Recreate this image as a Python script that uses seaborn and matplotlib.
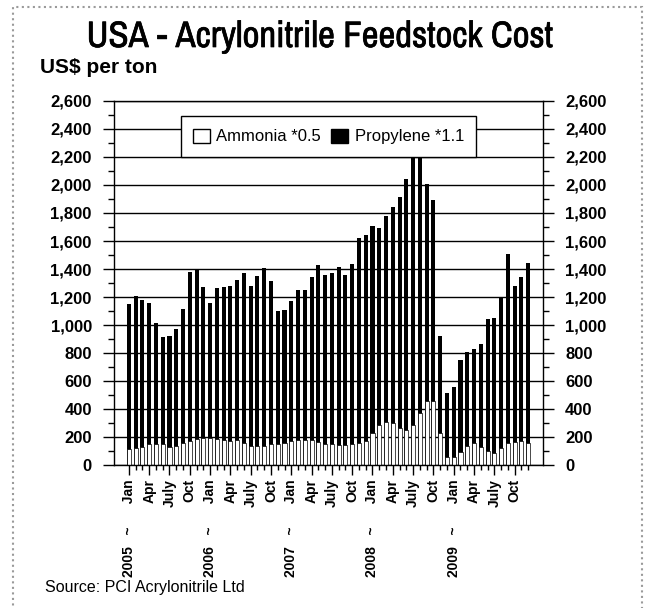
import seaborn as sns
import pandas as pd
import matplotlib.pyplot as plt
import matplotlib.patheffects as pe
from matplotlib import font_manager
from matplotlib.patches import Patch, Rectangle
from matplotlib.ticker import FuncFormatter, MultipleLocator

# monthly data Jan 2005 - Dec 2009, US$ per ton
years = [2005, 2006, 2007, 2008, 2009]
month_names = ['Jan', 'Feb', 'Mar', 'Apr', 'May', 'Jun',
               'Jul', 'Aug', 'Sep', 'Oct', 'Nov', 'Dec']

ammonia = [112, 119, 131, 148, 152, 148, 131, 133, 155, 174, 190, 195,
           195, 188, 176, 171, 176, 155, 138, 138, 138, 148, 152, 160,
           169, 176, 181, 176, 162, 152, 148, 143, 143, 148, 155, 174,
           226, 283, 310, 298, 267, 248, 288, 369, 460, 460, 226, 60,
           60, 95, 133, 155, 129, 100, 83, 124, 155, 167, 174, 155]

propylene = [1038, 1091, 1049, 1007, 863, 767, 789, 837, 960, 1206, 1210, 1080,
             965, 1077, 1099, 1109, 1144, 1220, 1142, 1212, 1267, 1167, 948, 950,
             1006, 1074, 1069, 1169, 1268, 1208, 1227, 1272, 1217, 1287, 1465, 1471,
             1484, 1412, 1465, 1547, 1648, 1792, 1972, 1861, 1550, 1430, 699, 455,
             500, 655, 677, 675, 736, 945, 967, 1066, 1355, 1113, 1171, 1285]

quarter_labels = {0: 'Jan', 3: 'Apr', 6: 'July', 9: 'Oct'}

months = [f'{y}-{m}' for y in years for m in month_names]
df = pd.DataFrame({'Month': months, 'Ammonia': ammonia, 'Propylene': propylene})
df['Total'] = df['Ammonia'] + df['Propylene']

plt.rcParams['font.family'] = ['Liberation Sans', 'DejaVu Sans']

# narrow face for the title, first one that is installed
installed = {f.name for f in font_manager.fontManager.ttflist}
title_family = 'Liberation Sans'
for name in ['Arial Narrow', 'Liberation Sans Narrow', 'Archivo Narrow', 'Roboto Condensed']:
    if name in installed:
        title_family = name
        break

fig = plt.figure(figsize=(6.47, 6.08), dpi=100)
ax = fig.add_axes([0.1762, 0.235, 0.6631, 0.599])

# stacked bars: propylene on top of ammonia
sns.barplot(data=df, x='Month', y='Total', order=months, color='black',
            saturation=1, width=0.6, linewidth=0, ax=ax)
sns.barplot(data=df, x='Month', y='Ammonia', order=months, color='white',
            saturation=1, width=0.6, edgecolor='black', linewidth=0.5, ax=ax)

ax.set_xlim(-2.2, 61.2)
ax.set_ylim(0, 2600)
ax.yaxis.set_major_locator(MultipleLocator(200))
ax.yaxis.set_minor_locator(MultipleLocator(100))
ax.yaxis.set_major_formatter(FuncFormatter(lambda v, p: f'{int(v):,}'))
ax.set_axisbelow(True)
ax.grid(axis='y', color='black', linewidth=1)
ax.tick_params(axis='y', which='both', left=True, right=True, labelleft=True,
               labelright=True, direction='out', width=1)
ax.tick_params(axis='y', which='major', length=8, pad=8)
ax.tick_params(axis='y', which='minor', length=4)
for lab in ax.get_yticklabels():
    lab.set_fontweight('bold')
    lab.set_fontsize(12)

# x ticks: quarterly labels, monthly minor ticks
pos, labs = [], []
for i, y in enumerate(years):
    for k, name in quarter_labels.items():
        pos.append(i * 12 + k)
        labs.append(f'{y}   ~      {name}' if k == 0 else name)
ax.set_xticks(pos)
ax.set_xticklabels(labs, rotation=90, fontsize=10, fontweight='bold', va='top')
ax.set_xticks(range(60), minor=True)
ax.tick_params(axis='x', which='major', length=7, width=1, pad=3)
ax.tick_params(axis='x', which='minor', length=3.5, width=1)
ax.set_xlabel('')
ax.set_ylabel('')
for s in ax.spines.values():
    s.set_color('black')
    s.set_linewidth(1)

handles = [Patch(facecolor='white', edgecolor='black', label='Ammonia *0.5'),
           Patch(facecolor='black', edgecolor='black', label='Propylene *1.1')]
leg = ax.legend(handles=handles, loc='upper center', bbox_to_anchor=(0.5, 0.958),
                borderaxespad=0, ncol=2, frameon=True, fancybox=False,
                framealpha=1, edgecolor='black', fontsize=12, handlelength=1.0,
                handleheight=0.9, columnspacing=0.6, handletextpad=0.4,
                borderpad=0.75)
leg.get_frame().set_linewidth(1)

fig.text(0.495, 0.9227, 'USA - Acrylonitrile Feedstock Cost', ha='center',
         va='baseline', fontweight='bold', family=title_family, fontsize=26.5,
         path_effects=[pe.withStroke(linewidth=0.5, foreground='black')])
fig.text(0.062, 0.88, 'US$ per ton', ha='left', va='baseline', fontsize=15,
         fontweight='bold')
fig.text(0.07, 0.033, 'Source: PCI Acrylonitrile Ltd', ha='left',
         va='center', fontsize=11.5)

fig.patches.append(Rectangle((0.02, -0.01), 0.972, 0.9985, transform=fig.transFigure,
                             fill=False, edgecolor='#9a9a9a', linewidth=1.5,
                             linestyle=':'))

fig.savefig('out.png', dpi=100)
